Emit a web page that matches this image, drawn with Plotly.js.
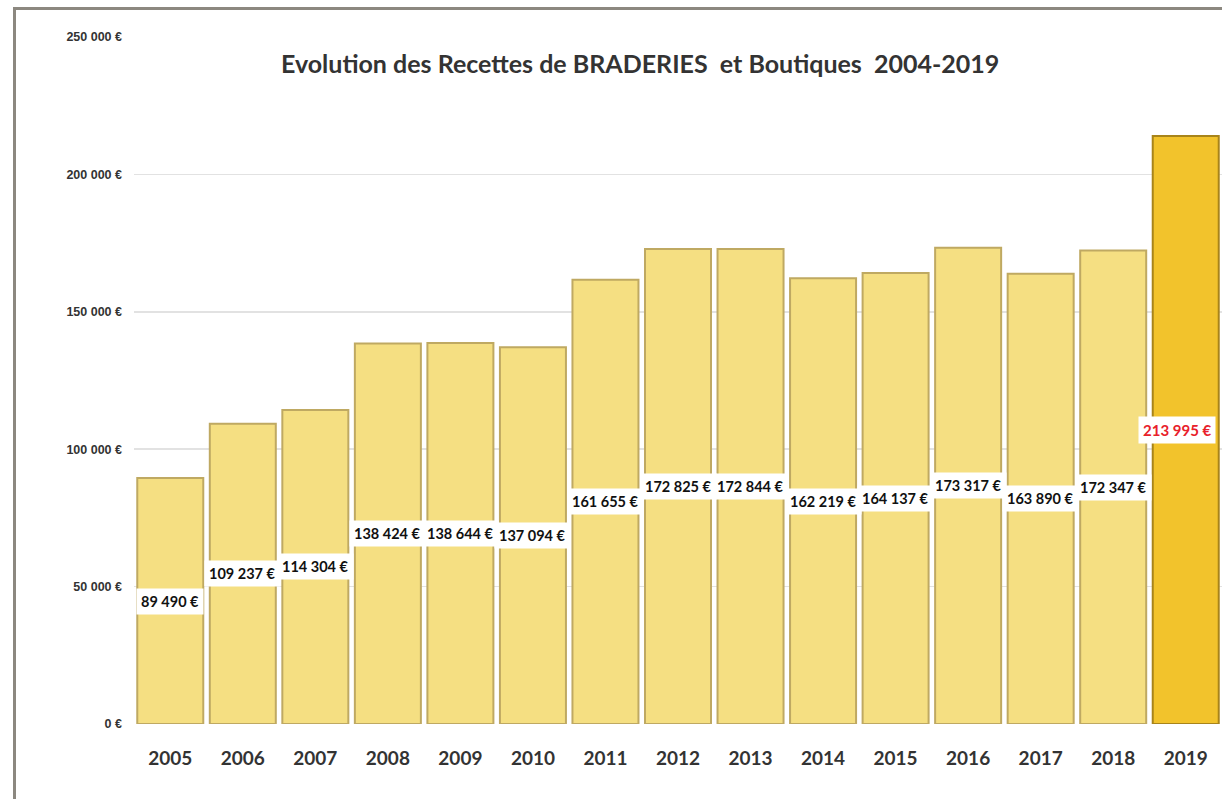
<!DOCTYPE html>
<html>
<head>
<meta charset="utf-8">
<script src="https://cdn.plot.ly/plotly-3.0.1.min.js"></script>
<style>
html,body{margin:0;padding:0;background:#fff;overflow:hidden;}
#frame{position:absolute;left:13px;top:7px;width:1215px;height:800px;border-left:3px solid #8c8880;border-top:3px solid #8c8880;}
#chart{position:absolute;left:0;top:0;width:1222px;height:799px;}
</style>
</head>
<body>
<div id="frame"></div>
<div id="chart"></div>
<script>
const years = ["2005","2006","2007","2008","2009","2010","2011","2012","2013","2014","2015","2016","2017","2018","2019"];
const recettes = [89490,109237,114304,138424,138644,137094,161655,172825,172844,162219,164137,173317,163890,172347,213995];
const valueLabels = ["89 490 €","109 237 €","114 304 €","138 424 €","138 644 €","137 094 €","161 655 €","172 825 €","172 844 €","162 219 €","164 137 €","173 317 €","163 890 €","172 347 €","213 995 €"];
const yTickVals = [0,50000,100000,150000,200000,250000];
const yTickText = ["0 €","50 000 €","100 000 €","150 000 €","200 000 €","250 000 €"];
const highlightYear = "2019";

const colors = years.map(y => y === highlightYear ? "#F2C32C" : "#F5DF82");
const lineColors = years.map(y => y === highlightYear ? "#A8841A" : "#BFA962");

const annotations = years.map((y,i) => ({
  x: i, y: recettes[i]/2, xref:"x", yref:"y",
  text: valueLabels[i], showarrow:false,
  bgcolor:"#ffffff", borderpad:4,
  xshift: y === highlightYear ? -9 : 0,
  font:{family:"Lato, 'Liberation Sans Narrow', sans-serif",
        size: y === highlightYear ? 15 : 14.5, weight:700,
        color: y === highlightYear ? "#E8202A" : "#111111"}
}));
annotations.push({
  xref:"paper", yref:"paper", x:0.465, y:0.962, yanchor:"middle", xanchor:"center",
  text:"Evolution des Recettes de BRADERIES  et Boutiques  2004-2019",
  showarrow:false,
  font:{family:"Lato, 'Open Sans', sans-serif", size:25, weight:700, color:"#333333"}
});

const trace = {
  type:"bar", x: years, y: recettes,
  marker:{color: colors, line:{color: lineColors, width:2}},
  hoverinfo:"skip"
};

const layout = {
  width:1222, height:799,
  margin:{l:134, r:0, t:37, b:75},
  paper_bgcolor:"rgba(0,0,0,0)", plot_bgcolor:"rgba(0,0,0,0)",
  bargap:0.09,
  showlegend:false,
  xaxis:{type:"category", range:[-0.5, years.length-0.5], autorange:false,
         showgrid:false, zeroline:false, showline:false, ticks:"",
         tickfont:{family:"Lato, 'Open Sans', sans-serif", size:19, weight:700, color:"#333333"},
         ticklabelstandoff:21},
  yaxis:{range:[0,250000], autorange:false, tickvals:yTickVals, ticktext:yTickText,
         showgrid:true, gridcolor:"#e2e2e2", gridwidth:1.5, zeroline:false, showline:false,
         tickfont:{family:"'Liberation Sans Narrow', 'Liberation Sans', sans-serif", size:12.5, weight:700, color:"#333333"},
         ticklabelstandoff:11},
  annotations: annotations
};

Plotly.newPlot("chart",[trace],layout,{displayModeBar:false,staticPlot:true});
</script>
</body>
</html>
